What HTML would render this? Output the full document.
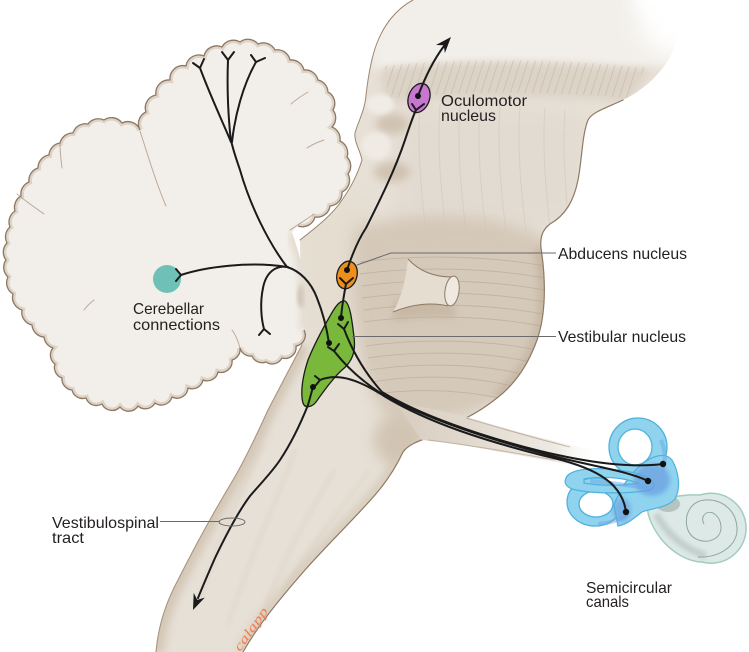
<!DOCTYPE html>
<html>
<head>
<meta charset="utf-8">
<style>
  html,body{margin:0;padding:0;background:#ffffff;}
  body{width:749px;height:652px;overflow:hidden;}
  svg{display:block;}
  .lbl{font-family:"Liberation Sans","DejaVu Sans",sans-serif;font-size:16px;fill:#231f20;}
</style>
</head>
<body>
<svg width="749" height="652" viewBox="0 0 749 652" xmlns="http://www.w3.org/2000/svg">
  <defs>
    <filter id="b2" x="-30%" y="-30%" width="160%" height="160%"><feGaussianBlur stdDeviation="2"/></filter>
    <filter id="b4" x="-30%" y="-30%" width="160%" height="160%"><feGaussianBlur stdDeviation="4"/></filter>
    <filter id="b7" x="-30%" y="-30%" width="160%" height="160%"><feGaussianBlur stdDeviation="7"/></filter>
    <filter id="b12" x="-50%" y="-50%" width="200%" height="200%"><feGaussianBlur stdDeviation="12"/></filter>
    <clipPath id="bsc">
      <path d="M413,0 L640,0 C662,8 682,30 673,50 C666,68 648,88 623,100 C606,108 592,112 588,120 C582,135 582,160 578,180 C574,200 566,215 550,224 C542,230 540,238 541,248 C546,280 546,315 537,340 C528,365 514,385 497,398 C487,406 476,413 466,418 L430,437 C418,441 408,445 403,452 C396,467 388,480 375,495 C355,518 330,542 305,570 C285,593 260,622 243,652 L156,652 C158,628 165,604 178,580 C192,552 212,515 233,480 C246,458 258,432 268,410 L302,345 L300,240 C318,226 333,214 342,200 C352,186 358,173 362,160 C360,150 354,142 355,133 C358,122 365,110 366,95 C368,78 371,58 377,43 C384,25 396,9 413,0 Z"/>
    </clipPath>
    <clipPath id="cbc">
      <path id="cbpath" d="M140,130 A13,13 0 0 1 146,112 A13,13 0 0 1 156,95 A13,13 0 0 1 170,80 A13,13 0 0 1 186,66 A13,13 0 0 1 204,56 A13,13 0 0 1 222,47 A13,13 0 0 1 240,42 A13,13 0 0 1 258,44 A13,13 0 0 1 275,50 A13,13 0 0 1 290,60 A13,13 0 0 1 304,70 A13,13 0 0 1 318,80 A13,13 0 0 1 328,92 A13,13 0 0 1 333,110 A13,13 0 0 1 332,127 A13,13 0 0 1 340,141 A13,13 0 0 1 347,157 A13,13 0 0 1 348,174 A13,13 0 0 1 342,192 A13,13 0 0 1 330,206 A13,13 0 0 1 315,217 A13,13 0 0 1 298,226 L292,232 C296,245 302,260 304,280 C306,300 306,318 304,330 A11,11 0 0 1 296,346 A11,11 0 0 1 282,358 A11,11 0 0 1 266,362 A11,11 0 0 1 252,356 A11,11 0 0 1 240,348 A11,11 0 0 1 232,360 A11,11 0 0 1 218,372 A11,11 0 0 1 203,380 A11,11 0 0 1 188,388 A11,11 0 0 1 172,397 A11,11 0 0 1 155,403 A11,11 0 0 1 138,406 A11,11 0 0 1 120,407 A11,11 0 0 1 102,404 A11,11 0 0 1 86,398 A11,11 0 0 1 72,390 A11,11 0 0 1 62,378 A11,11 0 0 1 55,364 A11,11 0 0 1 53,348 A13,13 0 0 1 44,337 A13,13 0 0 1 32,325 A13,13 0 0 1 22,310 A13,13 0 0 1 13,294 A13,13 0 0 1 8,277 A13,13 0 0 1 6,260 A13,13 0 0 1 7,243 A13,13 0 0 1 10,227 A13,13 0 0 1 15,211 A13,13 0 0 1 21,196 A13,13 0 0 1 29,182 A13,13 0 0 1 38,168 A13,13 0 0 1 49,155 A13,13 0 0 1 60,143 A13,13 0 0 1 73,133 A13,13 0 0 1 88,124 A13,13 0 0 1 104,120 A13,13 0 0 1 122,123 A13,13 0 0 1 140,130 Z"/>
    </clipPath>
    <linearGradient id="nerveG" x1="400" y1="0" x2="600" y2="0" gradientUnits="userSpaceOnUse">
      <stop offset="0" stop-color="#d8cdbf"/>
      <stop offset="0.45" stop-color="#e4ddd3"/>
      <stop offset="0.78" stop-color="#eeeae4"/>
      <stop offset="1" stop-color="#ffffff" stop-opacity="0"/>
    </linearGradient>
    <pattern id="hatch" width="7" height="40" patternUnits="userSpaceOnUse" patternTransform="rotate(18)">
      <line x1="3" y1="0" x2="3" y2="40" stroke="#b9a893" stroke-width="0.9"/>
    </pattern>
  </defs>

  <rect width="749" height="652" fill="#ffffff"/>

  <!-- ============ BRAINSTEM ============ -->
  <g clip-path="url(#bsc)">
    <rect x="140" y="0" width="560" height="652" fill="#e7e0d6"/>
    <!-- top light region -->
    <path d="M360,-10 L700,-10 L700,60 C640,72 600,66 560,64 C500,60 430,62 375,72 Z" fill="#f2efea" filter="url(#b4)"/>
    <!-- striated band -->
    <path d="M380,68 C450,60 560,60 650,70 L628,102 C560,96 470,94 385,104 Z" fill="#d9cfc2" opacity="0.75" filter="url(#b4)"/>
    <path d="M385,66 C450,58 560,58 645,68 L628,98 C560,92 470,90 388,98 Z" fill="url(#hatch)" opacity="0.45"/>
    <!-- midbrain body slight shading -->
    <path d="M395,110 C450,100 540,104 585,120 L575,215 C530,230 440,230 395,225 Z" fill="#e2dad0" opacity="0.8" filter="url(#b7)"/>
    <g stroke="#c7b9a6" stroke-width="1" fill="none" opacity="0.35">
      <path d="M420,105 C417,150 421,190 426,232"/>
      <path d="M440,104 C437,150 441,190 446,232"/>
      <path d="M460,104 C457,150 461,190 466,232"/>
      <path d="M480,104 C477,150 481,190 486,232"/>
      <path d="M500,105 C497,150 501,190 506,232"/>
      <path d="M520,106 C517,150 521,190 526,232"/>
      <path d="M545,108 C542,150 546,190 550,228"/>
      <path d="M565,110 C562,150 566,190 568,220"/>
    </g>
    <!-- colliculi bulges -->
    <ellipse cx="392" cy="124" rx="16" ry="10" fill="#cbbca9" opacity="0.8" filter="url(#b4)"/>
    <ellipse cx="392" cy="172" rx="18" ry="10" fill="#cbbca9" opacity="0.8" filter="url(#b4)"/>
    <ellipse cx="380" cy="104" rx="14" ry="10" fill="#f0ece6" filter="url(#b2)"/>
    <ellipse cx="376" cy="146" rx="15" ry="14" fill="#efeae4" filter="url(#b2)"/>
    <!-- peduncle area -->
    <path d="M300,230 C330,210 350,200 365,195 L380,300 L320,340 L300,330 Z" fill="#e4dccf" opacity="0.8" filter="url(#b7)"/>
    <!-- pons -->
    <path d="M355,228 C420,208 500,212 548,240 C552,300 540,360 505,396 C470,420 420,428 385,414 C360,382 345,300 355,228 Z" fill="#d2c5b4" opacity="0.85" filter="url(#b7)"/>
    <path d="M541,248 C546,280 546,315 537,340 C528,365 514,385 497,398" stroke="#b8a58f" stroke-width="12" fill="none" opacity="0.6" filter="url(#b4)"/>
    <g stroke="#ad9b85" stroke-width="0.9" fill="none" opacity="0.45">
      <path d="M360,262 C420,254 490,256 545,266"/>
      <path d="M360,274 C420,266 490,268 545,278"/>
      <path d="M362,286 C420,278 490,280 545,290"/>
      <path d="M362,298 C420,290 490,292 545,302"/>
      <path d="M364,310 C420,302 490,304 543,314"/>
      <path d="M364,322 C420,314 490,316 541,326"/>
      <path d="M366,346 C420,338 490,340 536,350"/>
      <path d="M368,358 C420,350 490,352 530,362"/>
      <path d="M370,370 C420,362 480,364 522,374"/>
      <path d="M372,382 C420,374 470,376 512,386"/>
      <path d="M376,394 C420,388 460,390 500,398"/>
    </g>
    <!-- shading under abducens nerve -->
    <path d="M395,300 C410,296 430,300 455,306 L455,318 C430,316 410,318 392,322 Z" fill="#bfae98" opacity="0.6" filter="url(#b4)"/>
    <!-- area below nerve -->
    <ellipse cx="400" cy="440" rx="26" ry="26" fill="#cdbfad" opacity="0.85" filter="url(#b7)"/>
    <!-- medulla shading -->
    <path d="M156,652 C158,628 165,604 178,580 C192,552 212,515 233,480 C246,458 258,432 268,410 L302,345" stroke="#cdbfac" stroke-width="16" fill="none" opacity="0.75" filter="url(#b4)"/>
    <path d="M403,452 C396,467 388,480 375,495 C355,518 330,542 305,570 C285,593 260,622 243,652" stroke="#d3c6b5" stroke-width="14" fill="none" opacity="0.7" filter="url(#b4)"/>
    <g stroke="#c6b6a2" stroke-width="1.4" fill="none" opacity="0.4" filter="url(#b2)">
      <path d="M262,445 C245,485 222,530 200,600"/>
      <path d="M295,450 C278,500 252,550 228,625"/>
      <path d="M335,470 C310,512 282,560 258,625"/>
      <path d="M370,470 C340,510 310,545 285,590"/>
    </g>
    <!-- top right fade to white -->
    <ellipse cx="700" cy="20" rx="62" ry="40" fill="#ffffff" filter="url(#b12)"/>
    <ellipse cx="672" cy="0" rx="40" ry="18" fill="#ffffff" filter="url(#b7)"/>
  </g>
  <!-- brainstem edges -->
  <g fill="none" stroke-linecap="round">
    <path d="M623,100 C606,108 592,112 588,120 C582,135 582,160 578,180 C574,200 566,215 550,224 C542,230 540,238 541,248 C546,280 546,315 537,340 C528,365 514,385 497,398 C487,406 476,413 466,418" stroke="#8f7a63" stroke-width="1.2"/>
    <path d="M430,437 C418,441 408,445 403,452 C396,467 388,480 375,495 C355,518 330,542 305,570 C285,593 260,622 243,652" stroke="#8f7a63" stroke-width="1.2"/>
    <path d="M156,652 C158,628 165,604 178,580 C192,552 212,515 233,480 C246,458 258,432 268,410 L302,345" stroke="#a8947e" stroke-width="1.1"/>
    <path d="M300,240 C318,226 333,214 342,200 C352,186 358,173 362,160 C360,150 354,142 355,133 C358,122 365,110 366,95 C368,78 371,58 377,43 C384,25 396,9 413,0" stroke="#9b8670" stroke-width="1"/>
  </g>

  <!-- abducens nerve cylinder -->
  <path d="M408,259 C420,272 436,277 452,277 L448,306 C432,302 412,304 393,312 C401,298 406,280 408,259 Z" fill="#e6ddd1"/>
  <path d="M408,259 C420,272 436,277 452,277" stroke="#8f7a63" stroke-width="1" fill="none"/>
  <path d="M393,312 C412,304 432,302 448,306" stroke="#8f7a63" stroke-width="1" fill="none"/>
  <ellipse cx="452" cy="291" rx="7" ry="15" transform="rotate(8 452 291)" fill="#efe9e1" stroke="#8f7a63" stroke-width="1"/>

  <!-- vestibular nerve -->
  <path d="M395,402 C430,408 452,413 470,418 C500,427 535,437 600,452 L600,470 C560,463 520,455 495,451 C470,446 445,442 422,440 Z" fill="url(#nerveG)"/>
  <path d="M466,418 C500,428 530,437 570,447" stroke="#b3a08a" stroke-width="0.9" fill="none" opacity="0.8"/>
  <path d="M428,440 C460,444 500,450 555,460" stroke="#b3a08a" stroke-width="0.9" fill="none" opacity="0.7"/>

  <!-- ============ CEREBELLUM ============ -->
  <use href="#cbpath" fill="#f2efea"/>
  <g clip-path="url(#cbc)">
    <path d="M140,130 A13,13 0 0 1 146,112 A13,13 0 0 1 156,95 A13,13 0 0 1 170,80 A13,13 0 0 1 186,66 A13,13 0 0 1 204,56 A13,13 0 0 1 222,47 A13,13 0 0 1 240,42 A13,13 0 0 1 258,44 A13,13 0 0 1 275,50 A13,13 0 0 1 290,60 A13,13 0 0 1 304,70 A13,13 0 0 1 318,80 A13,13 0 0 1 328,92 A13,13 0 0 1 333,110 A13,13 0 0 1 332,127 A13,13 0 0 1 340,141 A13,13 0 0 1 347,157 A13,13 0 0 1 348,174 A13,13 0 0 1 342,192 A13,13 0 0 1 330,206 A13,13 0 0 1 315,217 A13,13 0 0 1 298,226 M304,330 A11,11 0 0 1 296,346 A11,11 0 0 1 282,358 A11,11 0 0 1 266,362 A11,11 0 0 1 252,356 A11,11 0 0 1 240,348 A11,11 0 0 1 232,360 A11,11 0 0 1 218,372 A11,11 0 0 1 203,380 A11,11 0 0 1 188,388 A11,11 0 0 1 172,397 A11,11 0 0 1 155,403 A11,11 0 0 1 138,406 A11,11 0 0 1 120,407 A11,11 0 0 1 102,404 A11,11 0 0 1 86,398 A11,11 0 0 1 72,390 A11,11 0 0 1 62,378 A11,11 0 0 1 55,364 A11,11 0 0 1 53,348 A13,13 0 0 1 44,337 A13,13 0 0 1 32,325 A13,13 0 0 1 22,310 A13,13 0 0 1 13,294 A13,13 0 0 1 8,277 A13,13 0 0 1 6,260 A13,13 0 0 1 7,243 A13,13 0 0 1 10,227 A13,13 0 0 1 15,211 A13,13 0 0 1 21,196 A13,13 0 0 1 29,182 A13,13 0 0 1 38,168 A13,13 0 0 1 49,155 A13,13 0 0 1 60,143 A13,13 0 0 1 73,133 A13,13 0 0 1 88,124 A13,13 0 0 1 104,120 A13,13 0 0 1 122,123 A13,13 0 0 1 140,130" fill="none" stroke="#ddd3c7" stroke-width="6"/>
    <!-- fold shadow near peduncle -->
    <ellipse cx="302" cy="296" rx="4" ry="12" fill="#a48f78" opacity="0.7" filter="url(#b2)"/>
    <path d="M292,232 C296,245 302,260 304,280 C306,300 306,318 304,330" stroke="#e2d9cd" stroke-width="10" fill="none" filter="url(#b4)"/>
  </g>
  <path d="M140,130 A13,13 0 0 1 146,112 A13,13 0 0 1 156,95 A13,13 0 0 1 170,80 A13,13 0 0 1 186,66 A13,13 0 0 1 204,56 A13,13 0 0 1 222,47 A13,13 0 0 1 240,42 A13,13 0 0 1 258,44 A13,13 0 0 1 275,50 A13,13 0 0 1 290,60 A13,13 0 0 1 304,70 A13,13 0 0 1 318,80 A13,13 0 0 1 328,92 A13,13 0 0 1 333,110 A13,13 0 0 1 332,127 A13,13 0 0 1 340,141 A13,13 0 0 1 347,157 A13,13 0 0 1 348,174 A13,13 0 0 1 342,192 A13,13 0 0 1 330,206 A13,13 0 0 1 315,217 A13,13 0 0 1 298,226 M304,330 A11,11 0 0 1 296,346 A11,11 0 0 1 282,358 A11,11 0 0 1 266,362 A11,11 0 0 1 252,356 A11,11 0 0 1 240,348 A11,11 0 0 1 232,360 A11,11 0 0 1 218,372 A11,11 0 0 1 203,380 A11,11 0 0 1 188,388 A11,11 0 0 1 172,397 A11,11 0 0 1 155,403 A11,11 0 0 1 138,406 A11,11 0 0 1 120,407 A11,11 0 0 1 102,404 A11,11 0 0 1 86,398 A11,11 0 0 1 72,390 A11,11 0 0 1 62,378 A11,11 0 0 1 55,364 A11,11 0 0 1 53,348 A13,13 0 0 1 44,337 A13,13 0 0 1 32,325 A13,13 0 0 1 22,310 A13,13 0 0 1 13,294 A13,13 0 0 1 8,277 A13,13 0 0 1 6,260 A13,13 0 0 1 7,243 A13,13 0 0 1 10,227 A13,13 0 0 1 15,211 A13,13 0 0 1 21,196 A13,13 0 0 1 29,182 A13,13 0 0 1 38,168 A13,13 0 0 1 49,155 A13,13 0 0 1 60,143 A13,13 0 0 1 73,133 A13,13 0 0 1 88,124 A13,13 0 0 1 104,120 A13,13 0 0 1 122,123 A13,13 0 0 1 140,130" fill="none" stroke="#8d7762" stroke-width="1.3" stroke-linejoin="round"/>
  <!-- cerebellar fissures -->
  <g stroke="#a8937e" stroke-width="1" fill="none" opacity="0.75" stroke-linecap="round">
    <path d="M140,131 C147,152 154,178 166,206"/>
    <path d="M60,144 C60,152 61,160 62,168"/>
    <path d="M17,194 C28,203 37,209 44,214"/>
    <path d="M291,104 C298,98 303,95 308,92"/>
    <path d="M307,148 C313,144 318,142 324,140"/>
    <path d="M290,230 C299,224 307,219 314,214"/>
    <path d="M84,310 C87,306 90,303 94,300"/>
    <path d="M240,348 C238,340 235,334 232,330"/>
  </g>

  <!-- ============ INNER EAR ============ -->
  <!-- cochlea -->
  <path d="M648,506 C662,498 682,494 700,495 A35,35 0 1 1 702,562 C688,562 672,552 662,540 C654,530 646,515 648,506 Z" fill="#dde9e6" stroke="#a2cbc1" stroke-width="1.5"/>
  <path d="M656,514 C666,532 682,548 706,556" stroke="#b5c4c0" stroke-width="7" fill="none" opacity="0.7" filter="url(#b2)"/>
  <path d="M698,557 C720,558 738,545 737,528 C736,510 722,499 705,500 C692,501 684,513 687,527 C690,540 705,545 716,538 C724,532 722,518 713,513 C705,510 700,518 704,524" stroke="#8ea5a0" stroke-width="1" fill="none"/>
  <ellipse cx="668" cy="504" rx="12" ry="8" fill="#b3c2be" opacity="0.95"/>
  <!-- lower ring -->
  <path fill-rule="evenodd" d="M567,502 A28,24 0 1 1 623,502 A28,24 0 1 1 567,502 Z M579,504 A17,13 0 1 0 613,504 A17,13 0 1 0 579,504 Z" fill="#8fd3ee" stroke="#4fb2dc" stroke-width="1.3"/>
  <!-- upper ring -->
  <path fill-rule="evenodd" d="M609,447 A29,29 0 1 1 667,447 A29,29 0 1 1 609,447 Z M618,447 A17,18 0 1 0 652,447 A17,18 0 1 0 618,447 Z" fill="#8fd3ee" stroke="#4fb2dc" stroke-width="1.3"/>
  <!-- vestibule -->
  <path d="M640,466 C652,455 666,452 672,460 C679,472 681,488 675,499 C667,508 652,508 642,512 C634,518 628,524 618,526 L614,505 C620,490 628,476 640,466 Z" fill="#8fd3ee" stroke="#4fb2dc" stroke-width="1.2"/>
  <!-- lateral canal -->
  <path fill-rule="evenodd" d="M566,478 C570,468 600,466 630,472 C650,476 660,484 650,490 C630,494 590,494 572,489 C565,486 564,482 566,478 Z M584,479 C600,476 622,477 638,483 C622,486 600,486 584,483 Z" fill="#8fd3ee" stroke="#4fb2dc" stroke-width="1.2"/>
  <!-- membranous darker -->
  <ellipse cx="652" cy="480" rx="18" ry="16" fill="#6a9de0" opacity="0.7" filter="url(#b2)"/>
  <ellipse cx="622" cy="510" rx="9" ry="12" fill="#6a9de0" opacity="0.6" filter="url(#b2)"/>
  <path d="M590,481 C610,482 630,486 650,488" stroke="#6fa5e2" stroke-width="4" fill="none" opacity="0.5"/>
  <path d="M661,440 C666,452 666,462 662,472" stroke="#6fa5e2" stroke-width="4" fill="none" opacity="0.5"/>
  <path d="M598,524 C610,523 620,520 628,514" stroke="#6fa5e2" stroke-width="4" fill="none" opacity="0.5"/>

  <!-- ============ NUCLEI ============ -->
  <path d="M345,301 C350,304 352,320 354,337 C356,352 352,362 342,370 C333,378 323,392 316,402 C312,407 305,409 303,403 C300,392 303,375 308,360 C314,345 322,330 330,316 C334,309 339,300 345,301 Z" fill="#79b83b" stroke="#1c1c1c" stroke-width="1.3"/>
  <ellipse cx="347" cy="275" rx="10" ry="14" transform="rotate(15 347 275)" fill="#ec8f1c" stroke="#1c1c1c" stroke-width="1.3"/>
  <ellipse cx="419" cy="98" rx="10.5" ry="15" transform="rotate(20 419 98)" fill="#c777d0" stroke="#1c1c1c" stroke-width="1.3"/>
  <circle cx="167" cy="279" r="14" fill="#6fc1b8"/>

  <!-- ============ FIBRES ============ -->
  <g fill="none" stroke="#1a1a1a" stroke-width="2" stroke-linecap="round" stroke-linejoin="round">
    <!-- cerebellar connections -->
    <path d="M181,275 C205,267 250,261 287,267"/>
    <path d="M287,267 C300,271 311,282 317,298 C323,313 327,330 329,343"/>
    <path d="M288,267 C276,265 266,272 263,288 C260,302 261,318 264,329"/>
    <path d="M287,267 C268,242 250,205 240,170 C236,158 233,150 231,140"/>
    <path d="M231,142 C224,125 210,95 200,68"/>
    <path d="M231,142 C228,115 227,85 228,60"/>
    <path d="M232,142 C235,115 243,85 256,62"/>
    <!-- terminal forks -->
    <path d="M176,269 L181,275 L176,281"/>
    <path d="M193,63 L200,68 L204,59"/>
    <path d="M222,52 L228,60 L234,52"/>
    <path d="M251,55 L256,62 L265,58"/>
    <path d="M259,335 L264,329 L270,334"/>
    <!-- vestibular -> abducens -> oculomotor -->
    <path d="M341,318 C342,305 344,295 346,284"/>
    <path d="M340,278 L346,284 L353,278"/>
    <path d="M347,270 C352,255 358,240 366,228 C380,200 395,170 405,140 C410,125 413,116 416,110"/>
    <path d="M412,104 L416,110 L424,104"/>
    <path d="M418,96 C424,80 432,62 444,46"/>
    <!-- vestibulospinal -->
    <path d="M313,387 L308,405 C300,425 290,445 280,460 C272,472 262,482 250,496 C238,512 226,535 215,558 C208,574 202,588 198,598"/>
    <!-- vestibular nerve fibres -->
    <path d="M344,329 C352,350 364,372 382,392 C420,415 480,436 540,451 C590,463 630,468 663,464"/>
    <path d="M334,351 C345,365 360,380 382,394 C425,418 485,438 545,454 C590,466 625,470 648,481"/>
    <path d="M320,380 C340,372 362,382 384,396 C430,424 490,442 545,456 C590,466 622,480 626,512"/>
    <path d="M338,324 L344,329 L348,322"/>
    <path d="M328,347 L334,351 L339,344"/>
    <path d="M315,376 L320,380 L316,385"/>
  </g>
  <!-- arrowheads -->
  <polygon points="451,37 444.9,53 443.7,45.3 435.9,45" fill="#1a1a1a"/>
  <polygon points="193,610 193.7,592.9 197.3,599.9 204.8,597.6" fill="#1a1a1a"/>
  <!-- dots -->
  <g fill="#111">
    <circle cx="347" cy="270" r="3"/>
    <circle cx="418" cy="96" r="3"/>
    <circle cx="341" cy="318" r="3"/>
    <circle cx="329" cy="343" r="3"/>
    <circle cx="313" cy="387" r="3"/>
    <circle cx="663" cy="464" r="3.2"/>
    <circle cx="648" cy="481" r="3.2"/>
    <circle cx="626" cy="512" r="3.2"/>
  </g>

  <!-- ============ LEADERS ============ -->
  <g fill="none" stroke="#6b6b6b" stroke-width="1">
    <path d="M357,265 L391,253 L556,253"/>
    <path d="M352,336.5 L556,336.5"/>
    <path d="M160,521.5 L220,521.5"/>
    <ellipse cx="232" cy="522" rx="13" ry="4"/>
  </g>

  <!-- ============ LABELS ============ -->
  <text class="lbl" x="441" y="106" textLength="86" lengthAdjust="spacingAndGlyphs">Oculomotor</text>
  <text class="lbl" x="441" y="121" textLength="55" lengthAdjust="spacingAndGlyphs">nucleus</text>
  <text class="lbl" x="558" y="259" textLength="129" lengthAdjust="spacingAndGlyphs">Abducens nucleus</text>
  <text class="lbl" x="558" y="342" textLength="128" lengthAdjust="spacingAndGlyphs">Vestibular nucleus</text>
  <text class="lbl" x="133" y="314" textLength="71" lengthAdjust="spacingAndGlyphs">Cerebellar</text>
  <text class="lbl" x="133" y="330" textLength="87" lengthAdjust="spacingAndGlyphs">connections</text>
  <text class="lbl" x="52" y="528" textLength="107" lengthAdjust="spacingAndGlyphs">Vestibulospinal</text>
  <text class="lbl" x="52" y="543" textLength="32" lengthAdjust="spacingAndGlyphs">tract</text>
  <text class="lbl" x="586" y="593" textLength="86" lengthAdjust="spacingAndGlyphs">Semicircular</text>
  <text class="lbl" x="586" y="607" textLength="43" lengthAdjust="spacingAndGlyphs">canals</text>

  <!-- watermark -->
  <text x="0" y="0" transform="translate(240,652) rotate(-55)" font-family="Liberation Serif, serif" font-style="italic" font-size="13" fill="#f08050" textLength="50" lengthAdjust="spacingAndGlyphs">calapp</text>
</svg>
</body>
</html>
